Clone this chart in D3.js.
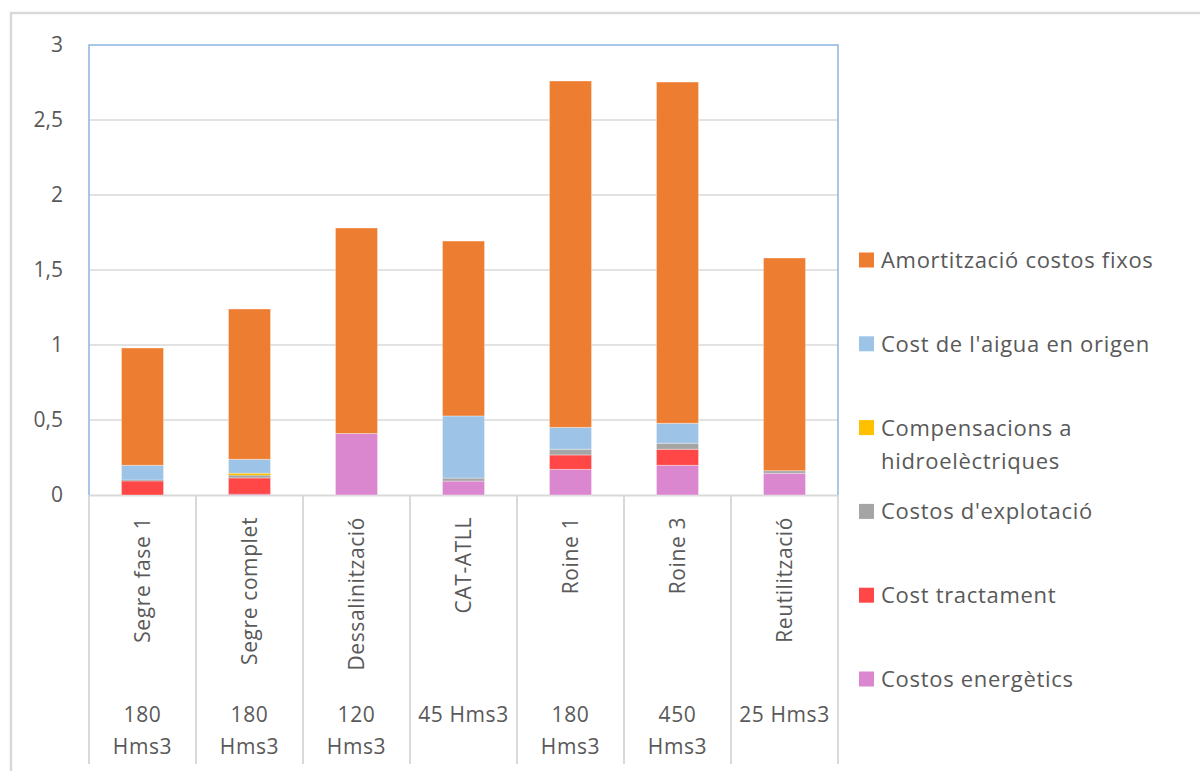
<!DOCTYPE html>
<html>
<head>
<meta charset="utf-8">
<script src="https://cdn.jsdelivr.net/npm/d3@7"></script>
<style>
  html, body { margin: 0; padding: 0; background: #fff; }
  svg { display: block; }
  text { font-family: "Open Sans", "Noto Sans", sans-serif; fill: #595959; }
</style>
</head>
<body>
<svg id="chart" width="1200" height="771"></svg>
<script>
// Cost components per option (€/m3), stacked bottom to top
const categories = ["Segre fase 1", "Segre complet", "Dessalinització", "CAT-ATLL", "Roine 1", "Roine 3", "Reutilització"];
const volumes = [["180", "Hms3"], ["180", "Hms3"], ["120", "Hms3"], ["45 Hms3"], ["180", "Hms3"], ["450", "Hms3"], ["25 Hms3"]];

const energetics    = [0,     0.005, 0.41, 0.093, 0.171, 0.198, 0.145];
const tractament    = [0.093, 0.109, 0,    0,     0.096, 0.107, 0];
const explotacio    = [0.007, 0.018, 0,    0.02,  0.038, 0.04,  0.017];
const compensacions = [0,     0.013, 0,    0,     0,     0,     0];
const aigua         = [0.098, 0.093, 0,    0.414, 0.146, 0.133, 0];
const amortitzacio  = [0.782, 1.002, 1.37, 1.166, 2.309, 2.275, 1.418];

const yTicks = [0, 0.5, 1, 1.5, 2, 2.5, 3];

const series = [
  { name: "Costos energètics", values: energetics, color: "#DA87D0" },
  { name: "Cost tractament", values: tractament, color: "#FF4747" },
  { name: "Costos d'explotació", values: explotacio, color: "#A5A5A5" },
  { name: "Compensacions a hidroelèctriques", lines: ["Compensacions a", "hidroelèctriques"], values: compensacions, color: "#FFC000" },
  { name: "Cost de l'aigua en origen", values: aigua, color: "#9DC3E6" },
  { name: "Amortització costos fixos", values: amortitzacio, color: "#ED7D31" }
];

const table = categories.map((c, i) => {
  const row = { cat: c };
  series.forEach(s => { row[s.name] = s.values[i]; });
  return row;
});

const svg = d3.select("#chart");
const plotLeft = 89, plotRight = 838, plotTop = 45, plotBottom = 495, tableBottom = 764;

const x = d3.scaleBand().domain(categories).range([plotLeft, plotRight]).paddingInner(0.607).paddingOuter(0.3035);
const slot = d3.scaleBand().domain(categories).range([plotLeft, plotRight]);
const y = d3.scaleLinear().domain([0, 3]).range([plotBottom, plotTop]);

// outer chart border
svg.append("path")
  .attr("d", `M11,771 L11,13 L1200,13`)
  .attr("fill", "none").attr("stroke", "#D9D9D9").attr("stroke-width", 2.5);

// horizontal gridlines
svg.append("g").selectAll("line").data(yTicks.filter(t => t > 0 && t < 3)).join("line")
  .attr("x1", plotLeft).attr("x2", plotRight)
  .attr("y1", d => y(d)).attr("y2", d => y(d))
  .attr("stroke", "#D9D9D9").attr("stroke-width", 1.5);

// category table lines
svg.append("line").attr("x1", plotLeft).attr("x2", plotRight).attr("y1", plotBottom + 0.5).attr("y2", plotBottom + 0.5)
  .attr("stroke", "#D9D9D9").attr("stroke-width", 2);
const bounds = categories.map(c => slot(c)).concat([plotRight]);
svg.append("g").selectAll("line").data(bounds).join("line")
  .attr("x1", d => d).attr("x2", d => d)
  .attr("y1", plotBottom).attr("y2", tableBottom)
  .attr("stroke", "#D9D9D9").attr("stroke-width", 2);

// stacked bars
const stack = d3.stack().keys(series.map(s => s.name));
const layers = stack(table);
svg.append("g").selectAll("g").data(layers).join("g")
  .attr("fill", (d, i) => series[i].color)
  .selectAll("rect").data(d => d).join("rect")
  .attr("x", d => x(d.data.cat))
  .attr("width", x.bandwidth())
  .attr("y", d => y(d[1]))
  .attr("height", d => Math.max(0, y(d[0]) - y(d[1])))
  .attr("stroke", "#fff").attr("stroke-opacity", 0.35).attr("stroke-width", d => (y(d[0]) - y(d[1])) > 2 ? 1 : 0);

// plot frame (top, left, right) in light blue
svg.append("path")
  .attr("d", `M${plotLeft},${plotBottom} L${plotLeft},${plotTop} L${plotRight},${plotTop} L${plotRight},${plotBottom}`)
  .attr("fill", "none").attr("stroke", "#8DB4E2").attr("stroke-width", 1.5);

// y axis labels
const yAxis = d3.axisLeft(y).tickValues(yTicks).tickSize(0).tickPadding(26)
  .tickFormat(d => String(d).replace(".", ","));
const gy = svg.append("g").attr("transform", `translate(${plotLeft},0)`).call(yAxis);
gy.select(".domain").remove();
gy.selectAll("text").attr("font-size", 21).attr("fill", "#595959")
  .style("font-family", '"Open Sans", sans-serif');

// rotated category names
svg.append("g").selectAll("text").data(categories).join("text")
  .attr("transform", d => `translate(${slot(d) + slot.bandwidth() / 2 + 7},517) rotate(-90)`)
  .attr("text-anchor", "end")
  .attr("font-size", 21)
  .attr("letter-spacing", 0.6)
  .text(d => d);

// volume labels
const vol = svg.append("g").selectAll("text").data(volumes).join("text")
  .attr("x", (d, i) => slot(categories[i]) + slot.bandwidth() / 2)
  .attr("y", 722)
  .attr("text-anchor", "middle")
  .attr("font-size", 21)
  .attr("letter-spacing", 0.6);
vol.selectAll("tspan").data(d => d).join("tspan")
  .attr("x", function () { return d3.select(this.parentNode).attr("x"); })
  .attr("dy", (d, i) => i === 0 ? 0 : 32)
  .text(d => d);

// legend
const legendOrder = series.slice().reverse();
const lg = svg.append("g").selectAll("g").data(legendOrder).join("g")
  .attr("transform", (d, i) => `translate(859,${260 + i * 83.8})`);
lg.append("rect").attr("x", 0).attr("y", -7.5).attr("width", 15).attr("height", 15)
  .attr("fill", d => d.color);
const lt = lg.append("text").attr("x", 22).attr("y", 8).attr("font-size", 22).attr("letter-spacing", 0.7);
lt.selectAll("tspan").data(d => d.lines || [d.name]).join("tspan")
  .attr("x", 22).attr("dy", (d, i) => i === 0 ? 0 : 33)
  .text(d => d);
</script>
</body>
</html>
